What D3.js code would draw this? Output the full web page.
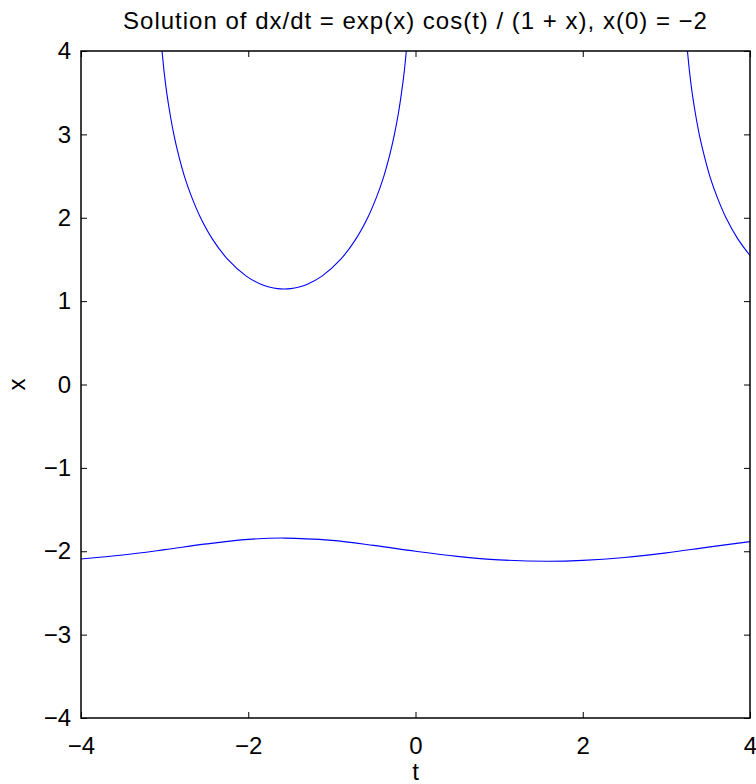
<!DOCTYPE html>
<html>
<head>
<meta charset="utf-8">
<script src="https://cdn.jsdelivr.net/npm/d3@7"></script>
<style>
  body { margin: 0; background: #fff; }
  text { font-family: "Liberation Sans", Arial, sans-serif; fill: #000; }
</style>
</head>
<body>
<div id="chart"></div>
<script>
// values
const tTicks = [-4, -2, 0, 2, 4];
const xTicks = [-4, -3, -2, -1, 0, 1, 2, 3, 4];

// upper branch, left "U" (t, x)
const upperT = [-3.031, -3.006, -2.975, -2.936, -2.890, -2.833, -2.764, -2.677, -2.570, -2.432, -2.245, -2.024, -1.841, -1.750, -1.649, -1.571,
                -1.493, -1.392, -1.300, -1.118, -0.896, -0.710, -0.572, -0.465, -0.378, -0.309, -0.252, -0.205, -0.167, -0.135, -0.110];
const upperX = [4.0, 3.75, 3.5, 3.25, 3.0, 2.75, 2.5, 2.25, 2.0, 1.75, 1.5, 1.3, 1.2, 1.17, 1.15, 1.146,
                1.15, 1.17, 1.2, 1.3, 1.5, 1.75, 2.0, 2.25, 2.5, 2.75, 3.0, 3.25, 3.5, 3.75, 4.0];

// upper branch at the right edge
const rightT = [3.252, 3.277, 3.308, 3.347, 3.393, 3.451, 3.519, 3.606, 3.713, 3.852, 4.0];
const rightX = [4.0, 3.75, 3.5, 3.25, 3.0, 2.75, 2.5, 2.25, 2.0, 1.75, 1.547];

// lower branch through x(0) = -2
const lowerT = [-4, -3.5, -3, -2.5, -2, -1.571, -1, -0.5, 0, 0.5, 1, 1.571, 2, 2.5, 3, 3.5, 4];
const lowerX = [-2.093, -2.045, -1.981, -1.912, -1.858, -1.842, -1.870, -1.930, -2.0, -2.061, -2.103, -2.120, -2.110, -2.075, -2.019, -1.950, -1.885];

const W = 756, H = 784;
const margin = {top: 51, right: 6, bottom: 66, left: 81};

let svg = d3.select('#chart').append('svg')
    .attr('width', W)
    .attr('height', H);

let x = d3.scaleLinear().domain([-4, 4]).range([margin.left, W - margin.right]);
let y = d3.scaleLinear().domain([-4, 4]).range([H - margin.bottom, margin.top]);

svg.append('defs').append('clipPath').attr('id', 'clip')
    .append('rect')
    .attr('x', x(-4)).attr('y', y(4))
    .attr('width', x(4) - x(-4)).attr('height', y(-4) - y(4));

let line = d3.line()
    .x(d => x(d[0]))
    .y(d => y(d[1]))
    .curve(d3.curveCatmullRom.alpha(0.5));

let curves = [
    d3.zip(upperT, upperX),
    d3.zip(rightT, rightX),
    d3.zip(lowerT, lowerX)
];

svg.append('g').attr('clip-path', 'url(#clip)')
    .selectAll('path')
    .data(curves)
    .enter().append('path')
    .attr('d', line)
    .attr('fill', 'none')
    .attr('stroke', '#0000ff')
    .attr('stroke-width', 1.1);

// axes, MATLAB style: ticks inside, box on
const tickLen = 6;
let fmt = d => d < 0 ? '\u2212' + Math.abs(d) : String(d);

svg.append('g')
    .attr('transform', `translate(0,${y(-4)})`)
    .call(d3.axisBottom(x).tickValues(tTicks).tickSize(-tickLen).tickPadding(19).tickFormat(fmt))
    .call(g => g.select('.domain').remove())
    .selectAll('text').style('font-size', '24px');

svg.append('g')
    .attr('transform', `translate(${x(-4)},0)`)
    .call(d3.axisLeft(y).tickValues(xTicks).tickSize(-tickLen).tickPadding(10).tickFormat(fmt))
    .call(g => g.select('.domain').remove())
    .selectAll('text').style('font-size', '24px');

svg.append('g')
    .attr('transform', `translate(0,${y(4)})`)
    .call(d3.axisTop(x).tickValues(tTicks).tickSize(-tickLen).tickFormat(''))
    .call(g => g.select('.domain').remove());

svg.append('g')
    .attr('transform', `translate(${x(4)},0)`)
    .call(d3.axisRight(y).tickValues(xTicks).tickSize(-tickLen).tickFormat(''))
    .call(g => g.select('.domain').remove());

svg.selectAll('.tick line').attr('stroke', '#000');

svg.append('rect')
    .attr('x', x(-4)).attr('y', y(4))
    .attr('width', x(4) - x(-4)).attr('height', y(-4) - y(4))
    .attr('fill', 'none')
    .attr('stroke', '#000')
    .attr('stroke-width', 1.5);

// labels
svg.append('text')
    .attr('x', (x(-4) + x(4)) / 2)
    .attr('y', 29)
    .attr('text-anchor', 'middle')
    .attr('letter-spacing', 1)
    .style('font-size', '24px')
    .text('Solution of dx/dt = exp(x) cos(t) / (1 + x), x(0) = \u22122');

svg.append('text')
    .attr('x', (x(-4) + x(4)) / 2)
    .attr('y', 780)
    .attr('text-anchor', 'middle')
    .style('font-size', '24px')
    .text('t');

svg.append('text')
    .attr('transform', `translate(25,${y(0)}) rotate(-90)`)
    .attr('text-anchor', 'middle')
    .style('font-size', '24px')
    .text('x');
</script>
</body>
</html>
